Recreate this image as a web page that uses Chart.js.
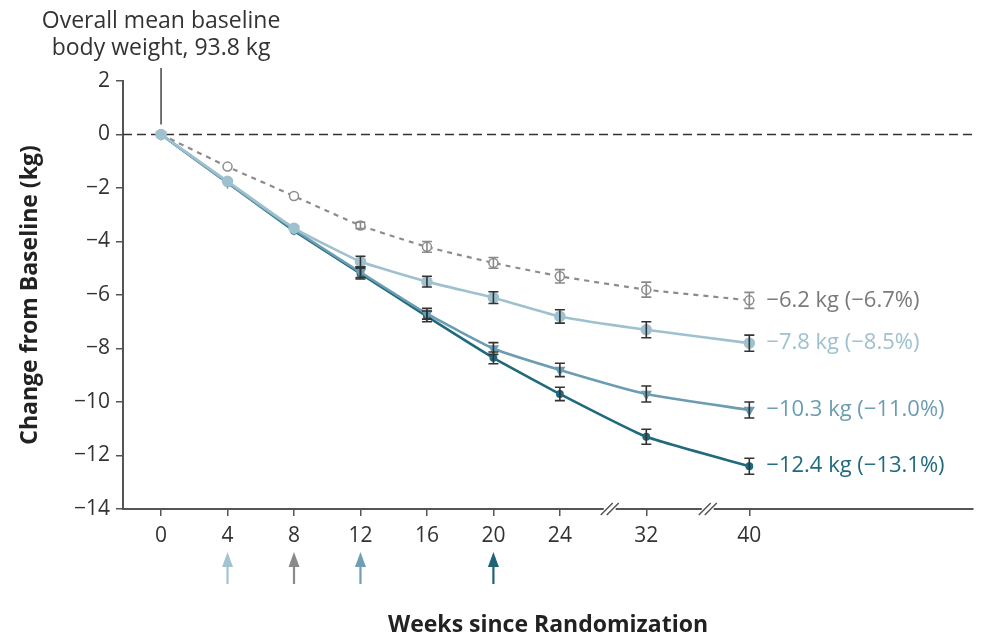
<!DOCTYPE html>
<html>
<head>
<meta charset="utf-8">
<script src="https://cdn.jsdelivr.net/npm/chart.js@4/dist/chart.umd.min.js"></script>
<style>
  html, body { margin: 0; padding: 0; background: #fff; }
  #wrap { position: relative; width: 987px; height: 640px; }
</style>
</head>
<body>
<div id="wrap"><canvas id="chart"></canvas></div>
<script>
// weeks and where each sits on the broken axis (gap after 24)
const weeks = [0, 4, 8, 12, 16, 20, 24, 32, 40];
const weekSlots = [0, 4, 8, 12, 16, 20, 24, 29.2, 35.4];
const breakSlots = [27.0, 32.9];

const placeboMean = [0, -1.2, -2.3, -3.4, -4.2, -4.8, -5.3, -5.8, -6.2];
const placeboSE   = [0, 0, 0, 0.12, 0.2, 0.2, 0.25, 0.28, 0.3];
const lowMean  = [0, -1.75, -3.5, -4.75, -5.5, -6.1, -6.8, -7.3, -7.8];
const lowSE    = [0, 0, 0, 0.2, 0.2, 0.22, 0.25, 0.3, 0.3];
const midMean  = [0, -1.8, -3.55, -5.15, -6.7, -8.0, -8.8, -9.7, -10.3];
const midSE    = [0, 0, 0, 0.2, 0.2, 0.22, 0.25, 0.3, 0.3];
const highMean = [0, -1.8, -3.6, -5.2, -6.8, -8.35, -9.7, -11.3, -12.4];
const highSE   = [0, 0, 0, 0.2, 0.2, 0.22, 0.25, 0.28, 0.3];

const endLabels = ["\u22126.2 kg (\u22126.7%)", "\u22127.8 kg (\u22128.5%)", "\u221210.3 kg (\u221211.0%)", "\u221212.4 kg (\u221213.1%)"];

const arrowWeeks = [4, 8, 12, 20];
const arrowColors = ["#a3c3d1", "#8a8a8a", "#6e9fb4", "#1f6376"];

const FONT = "'Open Sans', Lato, sans-serif";
const slotOf = (w) => weekSlots[weeks.indexOf(w)];
const toPoints = (vals, se) => vals.map((v, i) => ({ x: weekSlots[i], y: v, se: se[i] }));

const series = [
  { label: "placebo", vals: placeboMean, se: placeboSE, color: "#8c8c8c", text: "#7a7a7a", bar: "#8a8a8a",
    style: "circle", radius: 4.5, fill: "#fff", dash: [5, 5], width: 2.2, order: 4 },
  { label: "low", vals: lowMean, se: lowSE, color: "#9fc1cf", text: "#9fc1cf", bar: "#333",
    style: "circle", radius: 5, fill: "#9fc1cf", dash: [], width: 2.6, order: 1 },
  { label: "mid", vals: midMean, se: midSE, color: "#6b9db2", text: "#6b9db2", bar: "#333",
    style: "triangle", radius: 5, fill: "#6b9db2", dash: [], width: 2.6, rotation: 180, order: 2 },
  { label: "high", vals: highMean, se: highSE, color: "#216a7e", text: "#216a7e", bar: "#333",
    style: "circle", radius: 3.2, fill: "#216a7e", dash: [], width: 2.6, order: 3 },
];

const extras = {
  id: "extras",
  beforeDatasetsDraw(chart) {
    const { ctx, chartArea, scales: { y } } = chart;
    ctx.save();
    // zero reference line
    ctx.strokeStyle = "#333";
    ctx.lineWidth = 1.6;
    ctx.setLineDash([9, 5]);
    ctx.beginPath();
    ctx.moveTo(chartArea.left, y.getPixelForValue(0));
    ctx.lineTo(chartArea.right, y.getPixelForValue(0));
    ctx.stroke();
    ctx.restore();
  },
  afterDatasetsDraw(chart) {
    const { ctx, chartArea, scales: { x, y } } = chart;
    ctx.save();
    // error bars
    chart.data.datasets.forEach((ds, di) => {
      const s = series[di];
      ds.data.forEach((p) => {
        if (!p.se) return;
        const px = x.getPixelForValue(p.x);
        const y1 = y.getPixelForValue(p.y + p.se);
        const y2 = y.getPixelForValue(p.y - p.se);
        ctx.strokeStyle = s.bar;
        ctx.lineWidth = 1.6;
        ctx.setLineDash([]);
        ctx.beginPath();
        ctx.moveTo(px, y1); ctx.lineTo(px, y2);
        ctx.moveTo(px - 5, y1); ctx.lineTo(px + 5, y1);
        ctx.moveTo(px - 5, y2); ctx.lineTo(px + 5, y2);
        ctx.stroke();
      });
      // end labels
      const last = ds.data[ds.data.length - 1];
      ctx.fillStyle = s.text;
      ctx.font = "22px " + FONT;
      ctx.textAlign = "left";
      ctx.textBaseline = "middle";
      ctx.fillText(endLabels[di], x.getPixelForValue(last.x) + 17, y.getPixelForValue(last.y));
    });

    // axis break marks
    const ay = chartArea.bottom;
    breakSlots.forEach((b) => {
      const bx = x.getPixelForValue(b);
      ctx.fillStyle = "#fff";
      ctx.fillRect(bx - 6, ay - 3, 12, 6);
      ctx.strokeStyle = "#555";
      ctx.lineWidth = 1.5;
      ctx.beginPath();
      [-3, 3].forEach((o) => {
        ctx.moveTo(bx + o - 6, ay + 6);
        ctx.lineTo(bx + o + 6, ay - 6);
      });
      ctx.stroke();
    });

    // baseline annotation
    const x0 = x.getPixelForValue(slotOf(0));
    ctx.strokeStyle = "#444";
    ctx.lineWidth = 1.5;
    ctx.beginPath();
    ctx.moveTo(x0, 68); ctx.lineTo(x0, y.getPixelForValue(0) - 10);
    ctx.stroke();
    ctx.fillStyle = "#333";
    ctx.font = "23px " + FONT;
    ctx.textAlign = "center";
    ctx.textBaseline = "alphabetic";
    ctx.fillText("Overall mean baseline", x0, 28);
    ctx.fillText("body weight, 93.8 kg", x0, 55);

    // dose-escalation arrows
    arrowWeeks.forEach((w, i) => {
      const ax = x.getPixelForValue(slotOf(w));
      ctx.fillStyle = arrowColors[i];
      ctx.strokeStyle = arrowColors[i];
      ctx.lineWidth = 2.2;
      ctx.beginPath();
      ctx.moveTo(ax, 563); ctx.lineTo(ax, 584);
      ctx.stroke();
      ctx.beginPath();
      ctx.moveTo(ax, 552); ctx.lineTo(ax + 5.5, 567); ctx.lineTo(ax - 5.5, 567);
      ctx.closePath();
      ctx.fill();
    });

    // axis titles
    ctx.fillStyle = "#222";
    ctx.font = "bold 23px " + FONT;
    ctx.textAlign = "center";
    ctx.textBaseline = "middle";
    ctx.fillText("Weeks since Randomization", 548, 625);
    ctx.translate(30, 295);
    ctx.rotate(-Math.PI / 2);
    ctx.fillText("Change from Baseline (kg)", 0, 0);
    ctx.restore();
  }
};

new Chart(document.getElementById("chart"), {
  type: "line",
  data: {
    datasets: series.map((s) => ({
      label: s.label,
      data: toPoints(s.vals, s.se),
      order: s.order,
      borderColor: s.color,
      borderWidth: s.width,
      borderDash: s.dash,
      backgroundColor: s.fill,
      pointStyle: s.style,
      pointRadius: s.radius,
      pointRotation: s.rotation || 0,
      pointBackgroundColor: s.fill,
      pointBorderColor: s.color,
      pointBorderWidth: 1.5,
      tension: 0.15,
      clip: false,
    })),
  },
  options: {
    responsive: true,
    maintainAspectRatio: false,
    animation: false,
    events: [],
    layout: { padding: { top: 81, right: 14, left: 0, bottom: 0 } },
    plugins: { legend: { display: false }, tooltip: { enabled: false } },
    scales: {
      x: {
        type: "linear",
        min: -2.29,
        max: 48.86,
        afterBuildTicks: (axis) => { axis.ticks = weekSlots.map((v) => ({ value: v })); },
        afterFit: (axis) => { axis.height = 131; },
        grid: { drawOnChartArea: false, drawTicks: true, tickLength: 7, color: "#555", lineWidth: 1.5 },
        border: { display: true, color: "#555", width: 2 },
        ticks: {
          autoSkip: false,
          maxRotation: 0,
          padding: 7,
          color: "#333",
          font: { family: FONT, size: 21 },
          callback: (v) => { const i = weekSlots.indexOf(v); return i >= 0 ? String(weeks[i]) : ""; },
        },
      },
      y: {
        type: "linear",
        min: -14,
        max: 2,
        afterBuildTicks: (axis) => {
          const t = [];
          for (let v = 2; v >= -14; v -= 2) t.push({ value: v });
          axis.ticks = t;
        },
        afterFit: (axis) => { axis.width = 123; },
        grid: { drawOnChartArea: false, drawTicks: true, tickLength: 7, color: "#555", lineWidth: 1.5 },
        border: { display: true, color: "#555", width: 2 },
        ticks: {
          padding: 6,
          color: "#333",
          font: { family: FONT, size: 21 },
          callback: (v) => (v < 0 ? "\u2212" + Math.abs(v) : String(v)),
        },
      },
    },
  },
  plugins: [extras],
});
</script>
</body>
</html>
